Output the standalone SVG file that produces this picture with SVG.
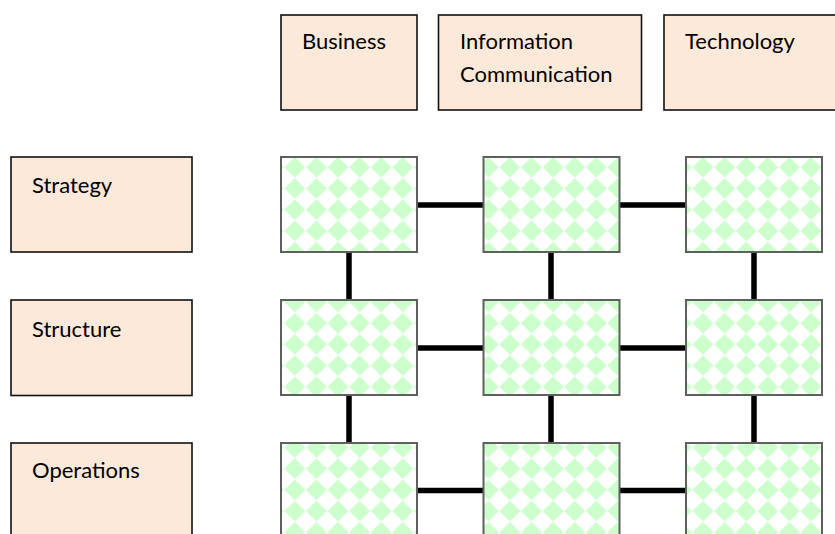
<svg xmlns="http://www.w3.org/2000/svg" xmlns:xlink="http://www.w3.org/1999/xlink" width="835" height="534" viewBox="0 0 835 534">
  <style>
    .hdr { fill: #fde9d9; stroke: #111; stroke-width: 1.6; }
    .cell { stroke: #5f5f5f; stroke-width: 2; }
    .lbl { font-family: Lato, "Liberation Sans", sans-serif; font-size: 22px; fill: #000; }
    .conn line { stroke: #000; stroke-width: 5.5; }
  </style>
  <defs>
    <pattern id="dm" patternUnits="userSpaceOnUse" width="21.6" height="21.2">
      <rect width="21.6" height="21.2" fill="#ffffff"/>
      <polygon points="10.8,0.3 21.3,10.6 10.8,20.9 0.3,10.6" fill="#ccffcc"/>
    </pattern>
    <pattern id="d11" href="#dm" xlink:href="#dm" x="284" y="156.7"/>
    <pattern id="d12" href="#dm" xlink:href="#dm" x="477.5" y="156.7"/>
    <pattern id="d13" href="#dm" xlink:href="#dm" x="692.2" y="156.7"/>
    <pattern id="d21" href="#dm" xlink:href="#dm" x="284" y="291.4"/>
    <pattern id="d22" href="#dm" xlink:href="#dm" x="477.5" y="291.4"/>
    <pattern id="d23" href="#dm" xlink:href="#dm" x="692.2" y="291.4"/>
    <pattern id="d31" href="#dm" xlink:href="#dm" x="284" y="436.9"/>
    <pattern id="d32" href="#dm" xlink:href="#dm" x="477.5" y="436.9"/>
    <pattern id="d33" href="#dm" xlink:href="#dm" x="692.2" y="436.9"/>
  </defs>
  <rect width="835" height="534" fill="#ffffff"/>

  <g id="connectors" class="conn">
    <line x1="417" y1="205" x2="483" y2="205"/>
    <line x1="619" y1="205" x2="686" y2="205"/>
    <line x1="417" y1="348" x2="483" y2="348"/>
    <line x1="619" y1="348" x2="686" y2="348"/>
    <line x1="417" y1="490.5" x2="483" y2="490.5"/>
    <line x1="619" y1="490.5" x2="686" y2="490.5"/>
    <line x1="349" y1="252" x2="349" y2="300"/>
    <line x1="551" y1="252" x2="551" y2="300"/>
    <line x1="754" y1="252" x2="754" y2="300"/>
    <line x1="349" y1="395" x2="349" y2="443"/>
    <line x1="551" y1="395" x2="551" y2="443"/>
    <line x1="754" y1="395" x2="754" y2="443"/>
  </g>

  <g id="business">
    <rect class="hdr" x="281" y="15" width="136" height="95"/>
    <text class="lbl" x="302" y="49">Business</text>
  </g>
  <g id="information-communication">
    <rect class="hdr" x="438.5" y="15" width="203" height="95"/>
    <text class="lbl" x="460" y="49">Information</text>
    <text class="lbl" x="460" y="81.5">Communication</text>
  </g>
  <g id="technology">
    <rect class="hdr" x="664" y="15" width="180" height="95"/>
    <text class="lbl" x="685" y="49">Technology</text>
  </g>

  <g id="strategy">
    <rect class="hdr" x="11" y="157" width="181" height="95"/>
    <text class="lbl" x="32" y="192.5">Strategy</text>
  </g>
  <g id="structure">
    <rect class="hdr" x="11" y="300" width="181" height="95.5"/>
    <text class="lbl" x="32" y="336.5">Structure</text>
  </g>
  <g id="operations">
    <rect class="hdr" x="11" y="443" width="181" height="95"/>
    <text class="lbl" x="32" y="478">Operations</text>
  </g>

  <g id="cell-1-1"><rect class="cell" x="281" y="157" width="136" height="95" fill="url(#d11)"/></g>
  <g id="cell-1-2"><rect class="cell" x="483.5" y="157" width="136" height="95" fill="url(#d12)"/></g>
  <g id="cell-1-3"><rect class="cell" x="686" y="157" width="136" height="95" fill="url(#d13)"/></g>
  <g id="cell-2-1"><rect class="cell" x="281" y="300" width="136" height="95" fill="url(#d21)"/></g>
  <g id="cell-2-2"><rect class="cell" x="483.5" y="300" width="136" height="95" fill="url(#d22)"/></g>
  <g id="cell-2-3"><rect class="cell" x="686" y="300" width="136" height="95" fill="url(#d23)"/></g>
  <g id="cell-3-1"><rect class="cell" x="281" y="443" width="136" height="95" fill="url(#d31)"/></g>
  <g id="cell-3-2"><rect class="cell" x="483.5" y="443" width="136" height="95" fill="url(#d32)"/></g>
  <g id="cell-3-3"><rect class="cell" x="686" y="443" width="136" height="95" fill="url(#d33)"/></g>
</svg>
